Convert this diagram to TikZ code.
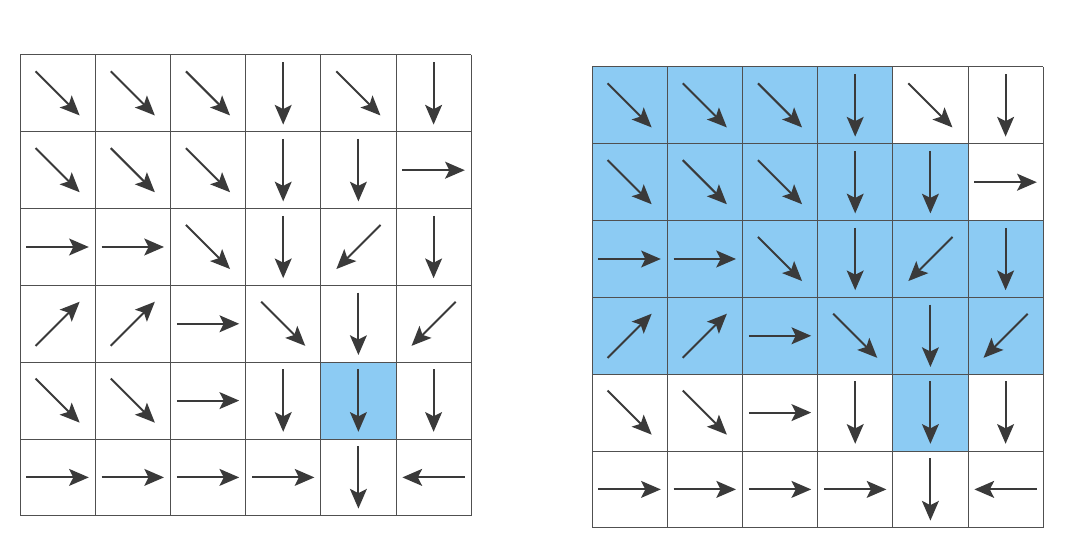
\documentclass[tikz,border=0pt]{standalone}
\usetikzlibrary{arrows.meta}
\begin{document}
\begin{tikzpicture}
    \definecolor{gridColour}{HTML}{505050}
    \definecolor{arrowColour}{HTML}{3A3A3A}
    \definecolor{fillColourBasin}{HTML}{8CCBF3}

    \def\cellW{1.88}
    \def\cellH{1.92}
    \def\arrowLen{0.78}

    \useasboundingbox (0,0) rectangle (26.7,13.375);

    % Draw the two grids (L = flow directions, R = upslope area)
    \foreach \gx/\gy/\g/\basin in {0.5/12.0/L/{5/5},
                                   14.8/11.7/R/{1/1,1/2,1/3,1/4,2/1,2/2,2/3,2/4,2/5,3/1,3/2,3/3,3/4,3/5,3/6,4/1,4/2,4/3,4/4,4/5,4/6,5/5}} {
    \begin{scope}[shift={(\gx,\gy)}]
        % Shade cells
        \foreach \r/\c in \basin
            \fill[fillColourBasin] ({(\c-1)*\cellW},{-(\r-1)*\cellH}) rectangle ++(\cellW,-\cellH);

        % Grid lines
        \foreach \i in {0,...,6} {
            \draw[gridColour, line width=0.7pt] ({\i*\cellW},0) -- ({\i*\cellW},{-6*\cellH});
            \draw[gridColour, line width=0.7pt] (0,{-\i*\cellH}) -- ({6*\cellW},{-\i*\cellH});
        }

        % Flow arrows (angle of each cell, row by row)
        \foreach \row [count=\r] in {{-45,-45,-45,-90,-45,-90},
                                     {-45,-45,-45,-90,-90,0},
                                     {0,0,-45,-90,-135,-90},
                                     {45,45,0,-45,-90,-135},
                                     {-45,-45,0,-90,-90,-90},
                                     {0,0,0,0,-90,180}} {
            \foreach \ang [count=\c] in \row {
                \coordinate (\g-\r-\c) at ({(\c-0.5)*\cellW},{-(\r-0.5)*\cellH});
                \draw[arrowColour, line width=1.4pt, -{Stealth[length=14pt,width=12pt,inset=3pt]}]
                    ([shift={(\ang+180:\arrowLen)}]\g-\r-\c) -- ([shift={(\ang:\arrowLen)}]\g-\r-\c);
            }
        }
    \end{scope}
    }

\end{tikzpicture}
\end{document}
